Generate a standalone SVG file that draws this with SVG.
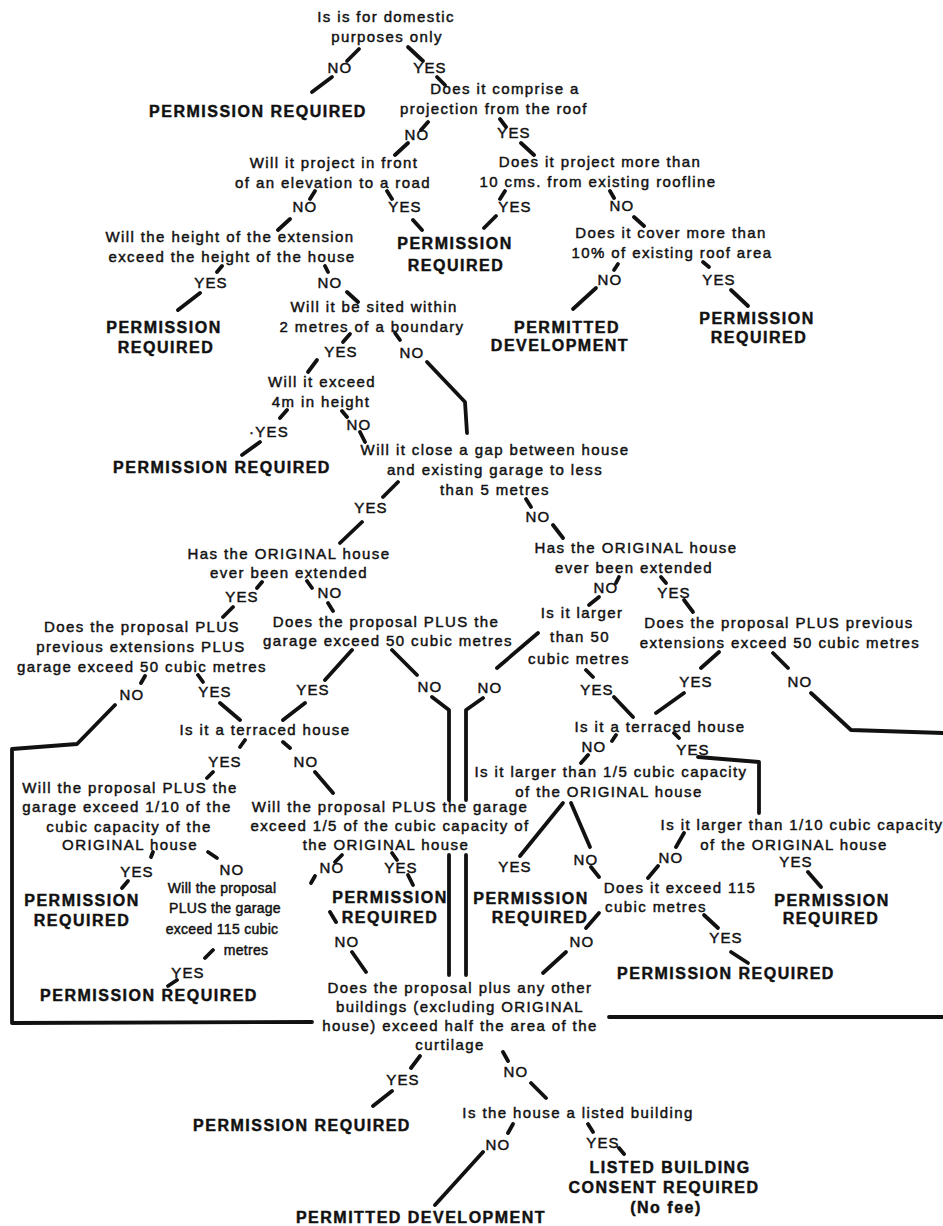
<svg xmlns="http://www.w3.org/2000/svg" width="943" height="1226" viewBox="0 0 943 1226">
<style>
text{font-family:"Liberation Sans",Arial,Helvetica,sans-serif;fill:#111;text-anchor:middle;stroke:#111;stroke-width:0.45px}
.q{font-size:15px;letter-spacing:1.4px}
.s{font-size:14px;letter-spacing:0.3px}
.l{font-size:15px;letter-spacing:1.2px}
.o{font-size:16px;font-weight:bold;letter-spacing:1.5px;stroke-width:0.3px}
.c path{stroke:#111;stroke-width:3.8;stroke-linecap:round;stroke-linejoin:round;fill:none}
</style>
<rect width="943" height="1226" fill="#fff"/>
<g class="c" id="connectors">
<path d="M359,49L347,61M408,47L423,61M332,77L312,92M437,77L445,85"/>
<path d="M428,122L421,130M500,119L506,127M408,143L395,155M521,143L534,155"/>
<path d="M315,191L310,199M387,191L392,199M505,191L500,199M610,191L614,198"/>
<path d="M290,219L278,230M413,220L422,230M496,216L484,228M634,217L644,226"/>
<path d="M222,266L217,272M325,266L328,272M200,293L178,310M347,292L358,302"/>
<path d="M618,264L614,270M703,262L709,267M596,288L573,309M731,290L748,306"/>
<path d="M350,334L343,342M395,333L400,340M317,360L308,372"/>
<path d="M427,362L465,402L467,433"/>
<path d="M287,410L280,418M342,411L347,417M260,442L242,455M360,432L365,442"/>
<path d="M398,482L383,497M526,499L531,507M362,522L340,543M553,525L563,538"/>
<path d="M262,582L257,588M307,581L312,588M233,607L223,617M328,603L333,611"/>
<path d="M619,577L616,583M661,577L666,583M599,597L589,605M684,600L693,612"/>
<path d="M352,650L325,680M392,650L417,675M145,676L141,683M198,675L203,682"/>
<path d="M115,705L77,744L12,749L12,1023L312,1022"/>
<path d="M220,703L240,720M305,703L283,720"/>
<path d="M432,697L449,710L449,800M449,855L449,975"/>
<path d="M538,633L497,668M483,698L466,710L466,800M466,855L466,975"/>
<path d="M586,670L593,677M614,697L633,717M719,652L701,668M684,693L656,713M773,653L788,668"/>
<path d="M811,693L851,730L943,733M609,1017L943,1017"/>
<path d="M245,740L240,747M283,742L290,748M213,772L207,778M315,772L333,793"/>
<path d="M616,735L612,741M674,733L679,738M698,757L759,762L759,813M588,755L581,763"/>
<path d="M563,803L520,856M571,803L590,847"/>
<path d="M153,852L151,857M208,852L217,858M128,881L122,888"/>
<path d="M342,855L335,862M315,876L311,883M392,853L397,860M408,875L413,885"/>
<path d="M591,867L599,877M684,833L676,847M658,866L648,878M808,872L821,887"/>
<path d="M330,912L336,922M352,952L366,972M213,950L205,958M177,980L168,986"/>
<path d="M599,913L586,928M566,952L543,973M704,915L718,928M731,952L748,963"/>
<path d="M420,1056L411,1068M392,1091L373,1106M503,1052L508,1061M531,1083L546,1098"/>
<path d="M513,1124L508,1133M588,1124L593,1132M619,1148L624,1154M483,1152L435,1205"/>
</g>
<g id="labels" class="l">
<text x="340" y="73">NO</text><text x="430" y="73">YES</text>
<text x="417" y="140">NO</text><text x="514" y="138">YES</text>
<text x="305" y="212">NO</text><text x="405" y="212">YES</text>
<text x="515" y="212">YES</text><text x="622" y="211">NO</text>
<text x="211" y="288">YES</text><text x="330" y="288">NO</text>
<text x="610" y="285">NO</text><text x="719" y="285">YES</text>
<text x="341" y="357">YES</text><text x="412" y="358">NO</text>
<text x="269" y="437">·YES</text><text x="359" y="430">NO</text>
<text x="371" y="513">YES</text><text x="538" y="522">NO</text>
<text x="242" y="602">YES</text><text x="330" y="598">NO</text>
<text x="606" y="593">NO</text><text x="674" y="598">YES</text>
<text x="132" y="700">NO</text><text x="215" y="697">YES</text>
<text x="313" y="695">YES</text><text x="430" y="692">NO</text>
<text x="490" y="693">NO</text><text x="597" y="695">YES</text>
<text x="696" y="687">YES</text><text x="800" y="687">NO</text>
<text x="225" y="767">YES</text><text x="306" y="767">NO</text>
<text x="594" y="752">NO</text><text x="693" y="755">YES</text>
<text x="137" y="877">YES</text><text x="232" y="875">NO</text>
<text x="332" y="873">NO</text><text x="401" y="873">YES</text>
<text x="515" y="872">YES</text><text x="586" y="865">NO</text>
<text x="671" y="863">NO</text><text x="796" y="867">YES</text>
<text x="347" y="947">NO</text><text x="188" y="978">YES</text>
<text x="582" y="947">NO</text><text x="726" y="943">YES</text>
<text x="403" y="1085">YES</text><text x="516" y="1077">NO</text>
<text x="498" y="1150">NO</text><text x="603" y="1148">YES</text>
</g>
<g id="n1" class="q"><text x="386" y="22">Is is for domestic</text><text x="387" y="42">purposes only</text></g>
<g id="n2" class="q"><text x="505" y="94">Does it comprise a</text><text x="494" y="114">projection from the roof</text></g>
<g id="n3" class="q"><text x="334" y="168">Will it project in front</text><text x="333" y="188">of an elevation to a road</text></g>
<g id="n4" class="q"><text x="600" y="167">Does it project more than</text><text x="598" y="187">10 cms. from existing roofline</text></g>
<g id="n5" class="q"><text x="230" y="242">Will the height of the extension</text><text x="232" y="262">exceed the height of the house</text></g>
<g id="n6" class="q"><text x="671" y="238">Does it cover more than</text><text x="672" y="258">10% of existing roof area</text></g>
<g id="n7" class="q"><text x="374" y="312">Will it be sited within</text><text x="372" y="332">2 metres of a boundary</text></g>
<g id="n8" class="q"><text x="322" y="387">Will it exceed</text><text x="321" y="407">4m in height</text></g>
<g id="n9" class="q"><text x="495" y="455">Will it close a gap between house</text><text x="495" y="475">and existing garage to less</text><text x="495" y="495">than 5 metres</text></g>
<g id="n10" class="q"><text x="289" y="559">Has the ORIGINAL house</text><text x="289" y="578">ever been extended</text></g>
<g id="n11" class="q"><text x="636" y="553">Has the ORIGINAL house</text><text x="634" y="573">ever been extended</text></g>
<g id="n12" class="q"><text x="142" y="632">Does the proposal PLUS</text><text x="141" y="652">previous extensions PLUS</text><text x="142" y="672">garage exceed 50 cubic metres</text></g>
<g id="n13" class="q"><text x="386" y="627">Does the proposal PLUS the</text><text x="388" y="646">garage exceed 50 cubic metres</text></g>
<g id="n14" class="q"><text x="582" y="618">Is it larger</text><text x="580" y="642">than 50</text><text x="579" y="664">cubic metres</text></g>
<g id="n15" class="q"><text x="779" y="628">Does the proposal PLUS previous</text><text x="780" y="648">extensions exceed 50 cubic metres</text></g>
<g id="n16" class="q"><text x="265" y="735">Is it a terraced house</text></g>
<g id="n17" class="q"><text x="660" y="732">Is it a terraced house</text></g>
<g id="n18" class="q"><text x="130" y="793">Will the proposal PLUS the</text><text x="127" y="812">garage exceed 1/10 of the</text><text x="129" y="832">cubic capacity of the</text><text x="130" y="850">ORIGINAL house</text></g>
<g id="n19" class="q"><text x="390" y="812">Will the proposal PLUS the garage</text><text x="390" y="831">exceed 1/5 of the cubic capacity of</text><text x="386" y="850">the ORIGINAL house</text></g>
<g id="n20" class="q"><text x="611" y="777">Is it larger than 1/5 cubic capacity</text><text x="609" y="797">of the ORIGINAL house</text></g>
<g id="n21" class="q"><text x="802" y="830">Is it larger than 1/10 cubic capacity</text><text x="794" y="850">of the ORIGINAL house</text></g>
<g id="n22" class="s"><text x="222" y="893">Will the proposal</text><text x="225" y="913">PLUS the garage</text><text x="222" y="934">exceed 115 cubic</text><text x="246" y="955">metres</text></g>
<g id="n23" class="q"><text x="680" y="893">Does it exceed 115</text><text x="656" y="912">cubic metres</text></g>
<g id="n24" class="q"><text x="460" y="993">Does the proposal plus any other</text><text x="460" y="1012">buildings (excluding ORIGINAL</text><text x="460" y="1031">house) exceed half the area of the</text><text x="450" y="1050">curtilage</text></g>
<g id="n25" class="q"><text x="578" y="1118">Is the house a listed building</text></g>
<g id="p1" class="o"><text x="258" y="117">PERMISSION REQUIRED</text></g>
<g id="p2" class="o"><text x="455" y="249">PERMISSION</text><text x="456" y="271">REQUIRED</text></g>
<g id="p3" class="o"><text x="164" y="333">PERMISSION</text><text x="166" y="353">REQUIRED</text></g>
<g id="p4" class="o"><text x="567" y="333">PERMITTED</text><text x="560" y="351">DEVELOPMENT</text></g>
<g id="p5" class="o"><text x="757" y="324">PERMISSION</text><text x="759" y="343">REQUIRED</text></g>
<g id="p6" class="o"><text x="222" y="473">PERMISSION REQUIRED</text></g>
<g id="p7" class="o"><text x="82" y="906">PERMISSION</text><text x="82" y="926">REQUIRED</text></g>
<g id="p8" class="o"><text x="390" y="903">PERMISSION</text><text x="390" y="923">REQUIRED</text></g>
<g id="p9" class="o"><text x="531" y="904">PERMISSION</text><text x="540" y="923">REQUIRED</text></g>
<g id="p10" class="o"><text x="832" y="906">PERMISSION</text><text x="831" y="924">REQUIRED</text></g>
<g id="p11" class="o"><text x="149" y="1001">PERMISSION REQUIRED</text></g>
<g id="p12" class="o"><text x="726" y="979">PERMISSION REQUIRED</text></g>
<g id="p13" class="o"><text x="302" y="1131">PERMISSION REQUIRED</text></g>
<g id="p14" class="o"><text x="670" y="1173">LISTED BUILDING</text><text x="664" y="1193">CONSENT REQUIRED</text><text x="666" y="1213">(No fee)</text></g>
<g id="p15" class="o"><text x="421" y="1223">PERMITTED DEVELOPMENT</text></g>
</svg>
